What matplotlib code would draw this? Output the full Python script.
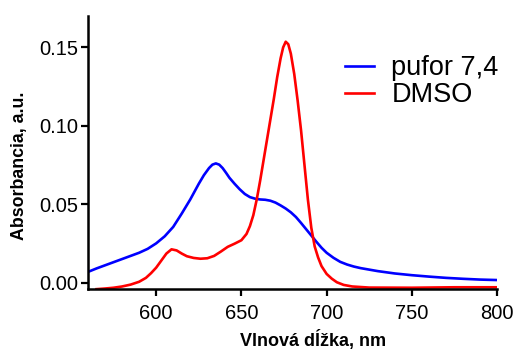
import numpy as np
import matplotlib.pyplot as plt

# absorpčné spektrá v pufri (pH 7,4) a v DMSO
wl_pufor = [560, 565, 570, 575, 580, 585, 590, 595, 600, 605, 610, 615, 620, 625,
            628, 631, 633, 635, 637, 639, 641, 643, 646, 649, 652, 655, 658, 661,
            664, 667, 670, 673, 676, 679, 682, 685, 688, 691, 694, 697, 700, 704,
            708, 712, 716, 720, 730, 740, 750, 760, 770, 780, 790, 800]
abs_pufor = [0.0068, 0.0090, 0.0110, 0.0130, 0.0150, 0.0170, 0.0190, 0.0215, 0.0250,
             0.0295, 0.0355, 0.0440, 0.0530, 0.0630, 0.0685, 0.0730, 0.0752, 0.0760,
             0.0752, 0.0730, 0.0700, 0.0668, 0.0630, 0.0595, 0.0565, 0.0545, 0.0535,
             0.0530, 0.0528, 0.0522, 0.0510, 0.0492, 0.0472, 0.0448, 0.0418, 0.0380,
             0.0340, 0.0300, 0.0260, 0.0222, 0.0190, 0.0158, 0.0132, 0.0115, 0.0102,
             0.0092, 0.0073, 0.0058, 0.0047, 0.0038, 0.0030, 0.0024, 0.0019, 0.0016]

wl_dmso = [565, 570, 575, 580, 585, 590, 594, 597, 600, 603, 606, 609, 612, 615, 618,
           622, 626, 630, 634, 638, 642, 646, 650, 653, 655, 657, 659, 661, 663, 665,
           667, 669, 671, 673, 674.5, 676, 677.5, 679, 681, 683, 685, 687, 689, 691,
           693, 695, 697, 700, 703, 706, 710, 715, 725, 750, 775, 800]
abs_dmso = [-0.0042, -0.0038, -0.0033, -0.0025, -0.0013, 0.0005, 0.0030, 0.0060,
            0.0095, 0.0140, 0.0185, 0.0212, 0.0205, 0.0185, 0.0168, 0.0157, 0.0152,
            0.0155, 0.0170, 0.0198, 0.0228, 0.0248, 0.0270, 0.0310, 0.0360, 0.0430,
            0.0530, 0.0650, 0.0780, 0.0910, 0.1040, 0.1170, 0.1310, 0.1430, 0.1500,
            0.1536, 0.1520, 0.1460, 0.1330, 0.1160, 0.0970, 0.0750, 0.0530, 0.0350,
            0.0230, 0.0160, 0.0105, 0.0055, 0.0025, 0.0002, -0.0015, -0.0025, -0.0032,
            -0.0033, -0.0030, -0.0030]

x_ticks = [600, 650, 700, 750, 800]
y_ticks = [0.00, 0.05, 0.10, 0.15]

plt.rcParams['font.family'] = ['Liberation Sans', 'DejaVu Sans']

fig = plt.figure(figsize=(5.13, 3.52), dpi=100)
ax = fig.add_axes([0.1715, 0.179, 0.7975, 0.7755])

ax.plot(wl_pufor, abs_pufor, color='#0000ff', lw=1.9, label='pufor 7,4')
ax.plot(wl_dmso, abs_dmso, color='#ff0000', lw=1.9, label='DMSO')

ax.set_xlim(560, 800)
ax.set_ylim(-0.0041, 0.170)
ax.set_xticks(x_ticks)
ax.set_yticks(y_ticks)
ax.set_yticklabels([f'{v:.2f}' for v in y_ticks])

for side in ['top', 'right']:
    ax.spines[side].set_visible(False)
for side in ['left', 'bottom']:
    ax.spines[side].set_linewidth(1.8)

ax.tick_params(axis='both', direction='out', length=5, width=1.6, labelsize=14.5)
ax.tick_params(axis='x', pad=6)
ax.tick_params(axis='y', pad=2)

ax.set_xlabel('Vlnová dĺžka, nm', fontweight='bold', fontsize=13)
ax.set_ylabel('Absorbancia, a.u.', fontweight='bold', fontsize=12.8)
ax.xaxis.set_label_coords(0.55, -0.152)
ax.yaxis.set_label_coords(-0.146, 0.45)

ax.legend(loc='upper left', bbox_to_anchor=(0.628, 0.857), frameon=False, fontsize=19.5,
          handlelength=1.07, handletextpad=0.65, labelspacing=0.05, borderpad=0, borderaxespad=0)

plt.savefig('out.png', dpi=100)
